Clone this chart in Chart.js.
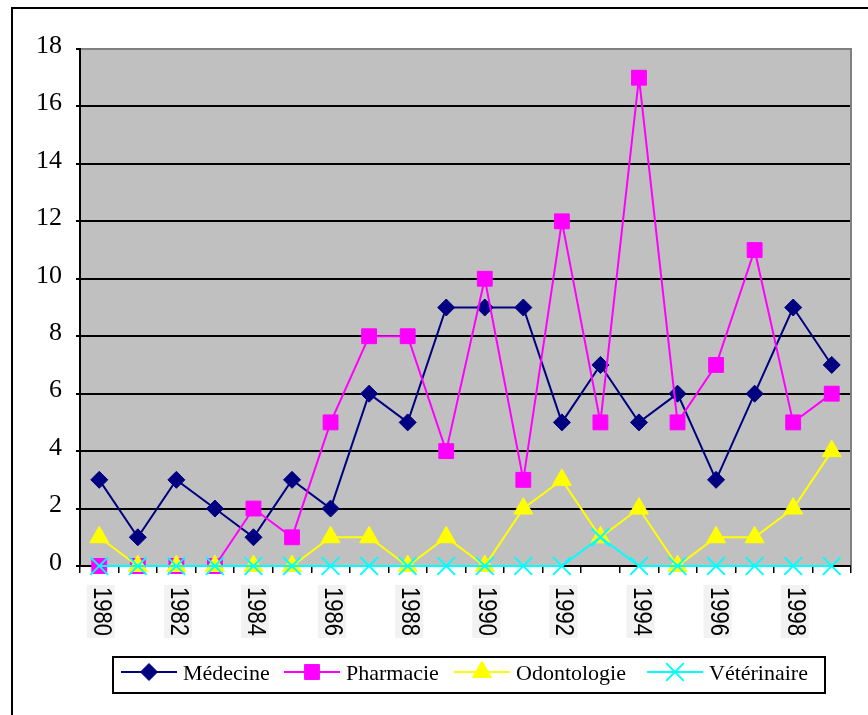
<!DOCTYPE html>
<html>
<head>
<meta charset="utf-8">
<script src="https://cdn.jsdelivr.net/npm/chart.js@4/dist/chart.umd.min.js"></script>
<style>
html,body{margin:0;padding:0;background:#fff;overflow:hidden}
#wrap{position:relative;width:868px;height:715px}
canvas{display:block}
</style>
</head>
<body>
<div id="wrap"><canvas id="c" width="868" height="715"></canvas></div>
<script>
// ---- data ----
const years = ['1980','1981','1982','1983','1984','1985','1986','1987','1988','1989',
               '1990','1991','1992','1993','1994','1995','1996','1997','1998','1999'];
const shownYearLabels = ['1980','1982','1984','1986','1988','1990','1992','1994','1996','1998'];
const seriesNames = ['Médecine','Pharmacie','Odontologie','Vétérinaire'];
const medecine    = [3,1,3,2,1,3,2,6,5,9,9,9,5,7,5,6,3,6,9,7];
const pharmacie   = [0,0,0,0,2,1,5,8,8,4,10,3,12,5,17,5,7,11,5,6];
const odontologie = [1,0,0,0,0,0,1,1,0,1,0,2,3,1,2,0,1,1,2,4];
const veterinaire = [0,0,0,0,0,0,0,0,0,0,0,0,0,1,0,0,0,0,0,0];
const yMin = 0, yMax = 18, yStep = 2;

const SERIF = '"Liberation Serif", "Times New Roman", serif';
const SANS = '"Liberation Sans", Arial, sans-serif';

const framePlugin = {
  id: 'frame',
  beforeDraw(chart) {
    const ctx = chart.ctx, ca = chart.chartArea;
    ctx.save();
    ctx.fillStyle = '#fff';
    ctx.fillRect(0, 0, chart.width, chart.height);
    ctx.strokeStyle = '#000';
    ctx.lineWidth = 2;
    ctx.strokeRect(12, 8, 1000, 1000);
    ctx.fillStyle = '#C0C0C0';
    ctx.fillRect(ca.left, ca.top, ca.right - ca.left, ca.bottom - ca.top);
    ctx.restore();
  },
  beforeDatasetsDraw(chart) {
    const ctx = chart.ctx, ca = chart.chartArea;
    ctx.save();
    ctx.strokeStyle = '#808080';
    ctx.lineWidth = 2;
    ctx.beginPath();
    ctx.moveTo(ca.left + 1, ca.top);
    ctx.lineTo(ca.right, ca.top);
    ctx.lineTo(ca.right, ca.bottom - 1);
    ctx.stroke();
    ctx.restore();
  }
};

const xLabelPlugin = {
  id: 'xLabels',
  afterDraw(chart) {
    const ctx = chart.ctx, xs = chart.scales.x, ca = chart.chartArea;
    ctx.save();
    ctx.font = '22px ' + SANS;
    years.forEach((y, i) => {
      if (!shownYearLabels.includes(y)) return;
      const px = xs.getPixelForTick(i);
      const w = ctx.measureText(y).width;
      ctx.save();
      ctx.translate(px + 1.5, ca.bottom + 21);
      ctx.rotate(Math.PI / 2);
      ctx.fillStyle = '#F2F2F2';
      ctx.fillRect(-2, -14, w + 4, 28);
      ctx.scale(1, 1.15);
      ctx.fillStyle = '#000';
      ctx.textAlign = 'left';
      ctx.textBaseline = 'middle';
      ctx.fillText(y, 0, 0);
      ctx.restore();
    });
    ctx.restore();
  }
};

const legendPlugin = {
  id: 'boxLegend',
  afterDraw(chart) {
    const ctx = chart.ctx, ca = chart.chartArea;
    const top = ca.bottom + 91, h = 36, left = 113, right = 825;
    ctx.save();
    ctx.fillStyle = '#fff';
    ctx.fillRect(left, top, right - left, h);
    ctx.strokeStyle = '#000';
    ctx.lineWidth = 2;
    ctx.strokeRect(left, top, right - left, h);
    const offsets = [8, 171, 341, 534];
    const cy = top + 15;
    ctx.font = '22px ' + SERIF;
    ctx.textBaseline = 'alphabetic';
    ctx.textAlign = 'left';
    chart.data.datasets.forEach((ds, i) => {
      const x0 = left + offsets[i];
      ctx.strokeStyle = ds.borderColor;
      ctx.lineWidth = ds.borderWidth;
      ctx.beginPath();
      ctx.moveTo(x0, cy);
      ctx.lineTo(x0 + 56, cy);
      ctx.stroke();
      ctx.fillStyle = ds.backgroundColor;
      ctx.strokeStyle = ds.borderColor;
      ctx.lineWidth = ds.pointBorderWidth;
      Chart.helpers.drawPoint(ctx, {pointStyle: ds.pointStyle, radius: ds.pointRadius, borderWidth: ds.pointBorderWidth, rotation: 0}, x0 + 28, cy);
      ctx.fillStyle = '#000';
      ctx.fillText(ds.label, x0 + 62, cy + 8);
    });
    ctx.restore();
  }
};

new Chart(document.getElementById('c'), {
  type: 'line',
  data: {
    labels: years,
    datasets: [
      {label: seriesNames[0], data: medecine, borderColor: '#000080', backgroundColor: '#000080',
       pointStyle: 'rectRot', pointRadius: 8.5, pointBorderWidth: 1, borderWidth: 2, order: 4},
      {label: seriesNames[1], data: pharmacie, borderColor: '#FF00FF', backgroundColor: '#FF00FF',
       pointStyle: 'rect', pointRadius: 10.5, pointBorderWidth: 1, borderWidth: 2, order: 3},
      {label: seriesNames[2], data: odontologie, borderColor: '#FFFF00', backgroundColor: '#FFFF00',
       pointStyle: 'triangle', pointRadius: 11, pointBorderWidth: 1, borderWidth: 2, order: 2},
      {label: seriesNames[3], data: veterinaire, borderColor: '#00FFFF', backgroundColor: '#00FFFF',
       pointStyle: 'crossRot', pointRadius: 12.5, pointBorderWidth: 2, borderWidth: 2, order: 1}
    ]
  },
  options: {
    responsive: false,
    animation: false,
    devicePixelRatio: 1,
    layout: {padding: {left: 0, top: 49, right: 17, bottom: 0}},
    elements: {line: {tension: 0, fill: false}},
    datasets: {line: {clip: false}},
    plugins: {legend: {display: false}, tooltip: {enabled: false}},
    scales: {
      x: {
        offset: true,
        grid: {offset: true, drawOnChartArea: false, drawTicks: true, tickLength: 7, color: '#000', lineWidth: 1.5},
        border: {color: '#000', width: 2},
        ticks: {display: false},
        afterFit(s) { s.height = 149; }
      },
      y: {
        min: yMin, max: yMax,
        ticks: {stepSize: yStep, color: '#000', font: {family: SERIF, size: 26}, padding: 14, labelOffset: -3},
        grid: {
          color: c => (c.tick && c.tick.value === yMax) ? '#808080' : '#000',
          tickColor: '#000', lineWidth: 2, tickLength: 4
        },
        border: {color: '#000', width: 2},
        afterFit(s) { s.width = 80; }
      }
    }
  },
  plugins: [framePlugin, xLabelPlugin, legendPlugin]
});
</script>
</body>
</html>
